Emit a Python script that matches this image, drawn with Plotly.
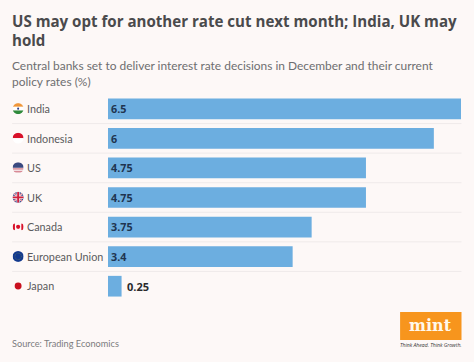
import base64
import plotly.graph_objects as go

countries = ["India", "Indonesia", "US", "UK", "Canada", "European Union", "Japan"]
rates = [6.5, 6, 4.75, 4.75, 3.75, 3.4, 0.25]
rate_labels = ["6.5", "6", "4.75", "4.75", "3.75", "3.4", "0.25"]
title_lines = ["US may opt for another rate cut next month; India, UK may", "hold"]
subtitle_lines = ["Central banks set to deliver interest rate decisions in December and their current", "policy rates (%)"]
source_text = "Source: Trading Economics"

W, H = 474, 362
BG = "#fdf8f7"
BAR = "#6caee0"
L, R, T, B = 108, 12.5, 94.4, 61

FLAGS = {
    "India": '<rect width="24" height="8" fill="#f0973a"/><rect y="8" width="24" height="8" fill="#fff"/><rect y="16" width="24" height="8" fill="#2f8a3c"/><circle cx="12" cy="12" r="2.2" fill="#2a3c8a"/>',
    "Indonesia": '<rect width="24" height="12" fill="#d8112a"/><rect y="12" width="24" height="12" fill="#fff"/>',
    "US": '<rect width="24" height="24" fill="#f3e4e6"/><rect y="13" width="24" height="3" fill="#d98a96"/><rect y="19" width="24" height="3" fill="#d98a96"/><rect width="24" height="12" fill="#3a4a80"/>',
    "UK": '<rect width="24" height="24" fill="#2b3f86"/><path d="M0 0L24 24M24 0L0 24" stroke="#f3e4e6" stroke-width="4"/><path d="M0 0L24 24M24 0L0 24" stroke="#d0213f" stroke-width="1.5"/><path d="M12 0V24M0 12H24" stroke="#f3e4e6" stroke-width="7"/><path d="M12 0V24M0 12H24" stroke="#d0213f" stroke-width="4"/>',
    "Canada": '<rect width="24" height="24" fill="#fdf8f7"/><rect y="5" width="5" height="14" fill="#d8112a"/><rect x="19" y="5" width="5" height="14" fill="#d8112a"/><circle cx="12" cy="12" r="4.5" fill="#d8112a"/>',
    "European Union": '<rect width="24" height="24" fill="#12398f"/><circle cx="12" cy="12" r="7" fill="none" stroke="#6f7f5a" stroke-width="1.5" stroke-dasharray="1.6 1.6"/>',
    "Japan": '<rect width="24" height="24" fill="#fdf8f7"/><circle cx="12" cy="12" r="7.5" fill="#c9101f"/>',
}


def flag_uri(inner):
    svg = ('<svg xmlns="http://www.w3.org/2000/svg" width="24" height="24" viewBox="0 0 24 24">'
           '<defs><clipPath id="c"><circle cx="12" cy="12" r="12"/></clipPath></defs>'
           f'<g clip-path="url(#c)">{inner}</g></svg>')
    return "data:image/svg+xml;base64," + base64.b64encode(svg.encode()).decode()


# "paper" spans the plot area, so page pixels are converted relative to it
PW, PH = W - L - R, H - T - B


def px(x):
    return (x - L) / PW


def py(y):
    return (H - B - y) / PH


bar_text = [t if r >= 1 else "" for t, r in zip(rate_labels, rates)]
fig = go.Figure(go.Bar(
    x=rates, y=countries, orientation="h", width=0.7,
    marker=dict(color=BAR, line_width=0),
    text=bar_text, textposition="inside", insidetextanchor="start",
    textangle=0, cliponaxis=False,
    textfont=dict(family="Open Sans", size=11, color="#1f3550", weight=700),
    hoverinfo="skip",
))

fig.update_layout(
    width=W, height=H, autosize=False,
    margin=dict(l=L, r=R, t=T, b=B),
    paper_bgcolor=BG, plot_bgcolor=BG, showlegend=False,
    xaxis=dict(range=[0, 6.5], visible=False, fixedrange=True),
    yaxis=dict(categoryorder="array", categoryarray=countries[::-1], range=[-0.5, 6.5],
               visible=False, fixedrange=True),
)


def text(x, y, s, size, color, weight=400, family="Lato", anchor="left"):
    fig.add_annotation(xref="paper", yref="paper", x=px(x), y=py(y), text=s, showarrow=False,
                       xanchor=anchor, yanchor="middle", align="left",
                       font=dict(family=family, size=size, color=color, weight=weight))


for y, s in zip([21.5, 40.5], title_lines):
    text(10, y, s, 15.1, "#4a4a4c", 700, family="Open Sans")
for y, s in zip([66, 82], subtitle_lines):
    text(10, y, s, 11.95, "#6e6e70")

for i, c in enumerate(countries):
    yc = 109 + 29.5 * i
    text(25, yc, c, 10.8, "#5a5a5c")
    fig.add_layout_image(source=flag_uri(FLAGS[c]), xref="paper", yref="paper",
                         x=px(12.5), y=py(yc - 5.5), sizex=11 / PW, sizey=11 / PH,
                         sizing="stretch", xanchor="left", yanchor="top", layer="above")
    if i < len(countries) - 1:
        # separators fall on the category boundaries
        fig.add_shape(type="line", xref="paper", yref="y",
                      x0=px(12), x1=px(462),
                      y0=i + 0.5, y1=i + 0.5,
                      line=dict(color="#efeaea", width=1), layer="below")

# value label outside the short bar
fig.add_annotation(xref="x", yref="y", x=rates[-1], y=countries[-1], text=rate_labels[-1],
                   xshift=3, xanchor="left", yanchor="middle", showarrow=False,
                   font=dict(family="Open Sans", size=11, color="#2a2a2c", weight=700))

text(10, 343.5, source_text, 9.2, "#7c7c7e")

# logo
fig.add_shape(type="rect", xref="paper", yref="paper", x0=px(400.5), x1=px(462), y0=py(312), y1=py(340),
              fillcolor="#f7951d", line_width=0, layer="above")
fig.add_annotation(xref="paper", yref="paper", x=px(431), y=py(325), text="mint", showarrow=False,
                   xanchor="center", yanchor="middle",
                   font=dict(family="DejaVu Serif", size=16, color="#fff8ec", weight=700))
fig.add_annotation(xref="paper", yref="paper", x=px(431), y=py(345), text="Think Ahead. Think Growth.",
                   showarrow=False, xanchor="center", yanchor="middle",
                   font=dict(family="Open Sans", size=5.1, color="#333333", style="italic"))

fig.write_html("out.html", config={"displayModeBar": False},
               post_script="document.body.style.margin='0';document.body.style.background='%s';" % BG)
